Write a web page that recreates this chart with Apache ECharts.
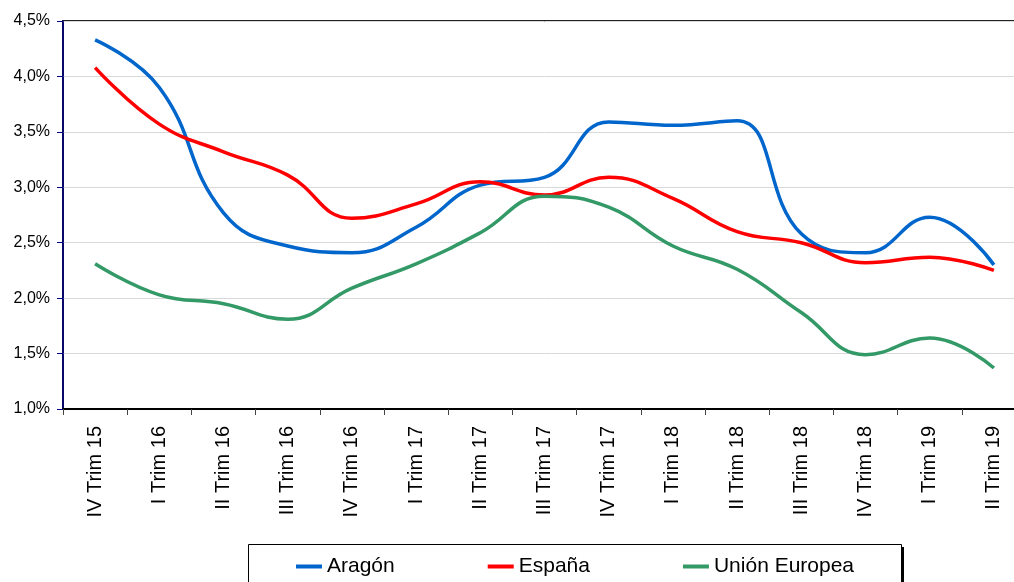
<!DOCTYPE html>
<html>
<head>
<meta charset="utf-8">
<script src="https://cdn.jsdelivr.net/npm/echarts@6/dist/echarts.min.js"></script>
<style>
html,body{margin:0;padding:0;background:#fff;overflow:hidden;width:1014px;height:582px;}
#chart{width:1040px;height:582px;}
</style>
</head>
<body>
<div id="chart"></div>
<script>
const categories = ['IV Trim 15','I Trim 16','II Trim 16','III Trim 16','IV Trim 16','I Trim 17','II Trim 17','III Trim 17','IV Trim 17','I Trim 18','II Trim 18','III Trim 18','IV Trim 18','I Trim 19','II Trim 19'];
const aragon = [4.33, 3.90, 2.77, 2.47, 2.41, 2.64, 3.02, 3.09, 3.59, 3.56, 3.60, 2.58, 2.41, 2.73, 2.30];
const espana = [4.08, 3.57, 3.32, 3.11, 2.72, 2.85, 3.05, 2.93, 3.09, 2.90, 2.60, 2.50, 2.32, 2.37, 2.25];
const ue = [2.31, 2.03, 1.95, 1.81, 2.09, 2.31, 2.59, 2.92, 2.82, 2.47, 2.26, 1.87, 1.49, 1.64, 1.37];
const seriesNames = ['Aragón', 'España', 'Unión Europea'];
const colors = ['#0066CC', '#FF0000', '#339966'];

const chart = echarts.init(document.getElementById('chart'));
const font = '"Liberation Sans", Arial, sans-serif';
function mk(name, data, color) {
  return {
    name: name, type: 'line', data: data, smooth: 0.45, symbol: 'none',
    lineStyle: { color: color, width: 3.5 }, itemStyle: { color: color }
  };
}
chart.setOption({
  animation: false,
  backgroundColor: '#fff',
  color: colors,
  grid: { left: 63, top: 21, width: 963, height: 388, show: true, borderColor: '#222', borderWidth: 2, backgroundColor: 'transparent' },
  graphic: [
    { type: 'rect', left: 251, top: 547, z: 0, shape: { width: 653, height: 60 }, style: { fill: '#000' } },
    { type: 'rect', left: 248, top: 544, z: 1, shape: { width: 653, height: 60 }, style: { fill: '#fff', stroke: '#000', lineWidth: 1 } }
  ],
  legend: {
    left: 248, top: 544, z: 5,
    padding: [12, 40, 14, 48],
    itemGap: 93, itemWidth: 26, itemHeight: 4, icon: 'rect',
    textStyle: { fontFamily: font, fontSize: 21, color: '#000' },
    data: seriesNames
  },
  xAxis: {
    type: 'category', data: categories, boundaryGap: true,
    axisLine: { lineStyle: { color: '#000', width: 2 } },
    axisTick: { show: true, length: 6, lineStyle: { color: '#444' } },
    axisLabel: { rotate: 90, fontFamily: font, fontSize: 20, color: '#000', margin: 17, interval: 0 },
    splitLine: { show: false }
  },
  yAxis: {
    type: 'value', min: 1, max: 4.5, interval: 0.5,
    axisLine: { show: true, lineStyle: { color: '#000080', width: 1.5 } },
    axisTick: { show: true, length: 6, lineStyle: { color: '#000080' } },
    axisLabel: { fontFamily: font, fontSize: 16, color: '#000', margin: 13,
      formatter: v => v.toFixed(1).replace('.', ',') + '%' },
    splitLine: { lineStyle: { color: '#d9d9d9', width: 1 } }
  },
  series: [mk(seriesNames[0], aragon, colors[0]), mk(seriesNames[1], espana, colors[1]), mk(seriesNames[2], ue, colors[2])]
});
</script>
</body>
</html>
